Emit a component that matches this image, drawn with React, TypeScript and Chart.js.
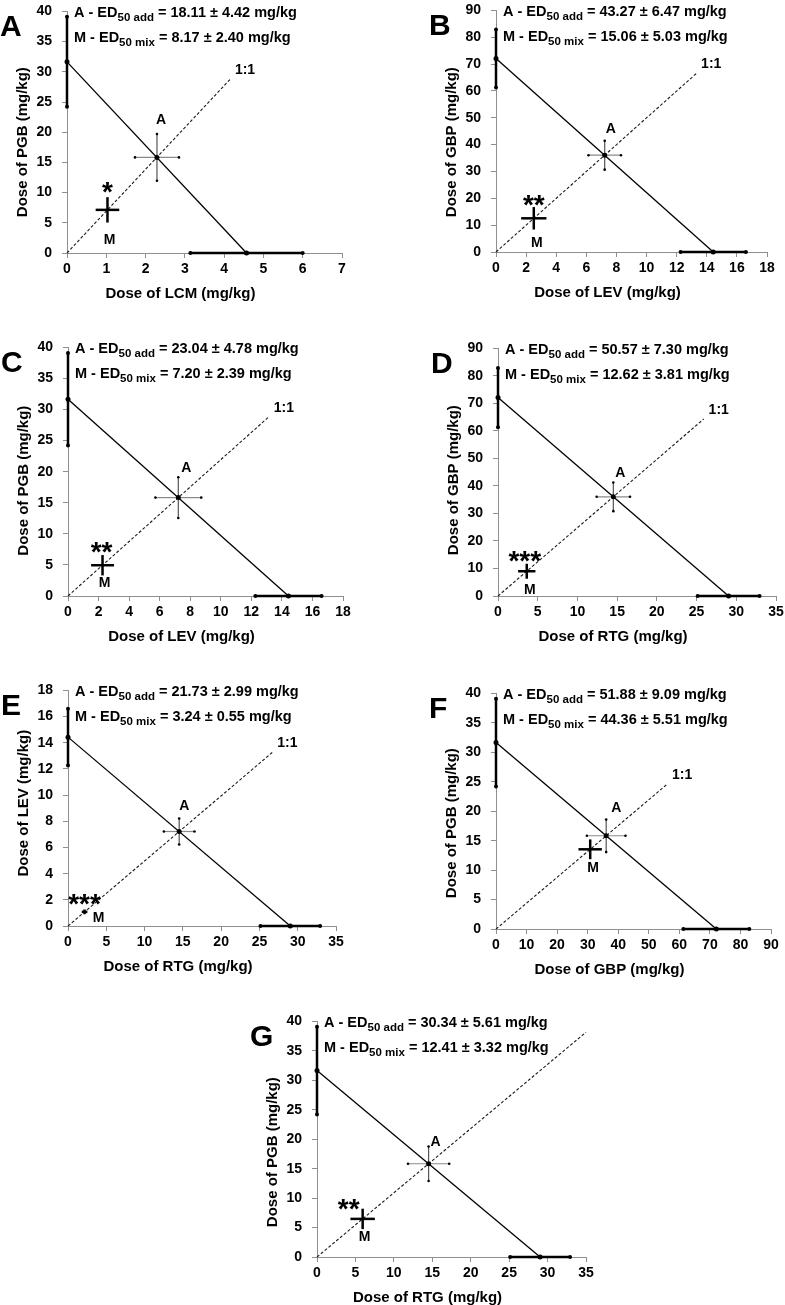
import React, { useEffect, useRef } from 'react';
import { Chart, registerables } from 'chart.js';
Chart.register(...registerables);

const FONT = '"Liberation Sans", Arial, Helvetica, sans-serif';

// ---------------- data ----------------
const panelLetters = ['A', 'B', 'C', 'D', 'E', 'F', 'G'];
const xDrugNames = ['LCM', 'LEV', 'LEV', 'RTG', 'RTG', 'GBP', 'RTG'];
const yDrugNames = ['PGB', 'GBP', 'PGB', 'GBP', 'LEV', 'PGB', 'PGB'];
const xAxisMax = [7, 18, 18, 35, 35, 90, 35];
const xAxisStep = [1, 2, 2, 5, 5, 10, 5];
const yAxisMax = [40, 90, 40, 90, 18, 40, 40];
const yAxisStep = [5, 10, 5, 10, 2, 5, 5];

// single-drug ED50 (on each axis) and its error
const xED50 = [4.57, 14.43, 14.43, 29.03, 29.03, 72.11, 29.03];
const xED50Err = [1.43, 2.17, 2.17, 3.9, 3.9, 10.8, 3.9];
const yED50 = [31.65, 72.11, 31.65, 72.11, 14.43, 31.65, 31.65];
const yED50Err = [7.45, 10.8, 7.45, 10.8, 2.17, 7.45, 7.45];

// theoretical additive point (A)
const addPointX = [2.29, 7.22, 7.22, 14.52, 14.52, 36.06, 14.52];
const addPointY = [15.83, 36.06, 15.83, 36.06, 7.22, 15.83, 15.83];
const addErrX = [0.56, 1.08, 1.5, 2.1, 2.0, 6.32, 2.68];
const addErrY = [3.86, 5.39, 3.28, 5.21, 0.99, 2.77, 2.93];

// experimental mixture point (M)
const mixPointX = [1.03, 2.51, 2.26, 3.62, 2.16, 30.83, 5.94];
const mixPointY = [7.14, 12.55, 4.95, 9.0, 1.08, 13.53, 6.47];
const mixErrX = [0.3, 0.84, 0.75, 1.09, 0.37, 3.83, 1.59];
const mixErrY = [2.1, 4.19, 1.64, 2.72, 0.18, 1.68, 1.73];

// end of the 1:1 ray
const rayEndX = [4.15, 13.3, 13.15, 25.9, 26.7, 56, 35];
const rayEndY = [28.74, 66.46, 28.84, 64.33, 13.27, 24.58, 38.16];

const edAddText = ['18.11 ± 4.42', '43.27 ± 6.47', '23.04 ± 4.78', '50.57 ± 7.30', '21.73 ± 2.99', '51.88 ± 9.09', '30.34 ± 5.61'];
const edMixText = ['8.17 ± 2.40', '15.06 ± 5.03', '7.20 ± 2.39', '12.62 ± 3.81', '3.24 ± 0.55', '44.36 ± 5.51', '12.41 ± 3.32'];
const significance = ['*', '**', '**', '***', '***', '', '**'];
const rayLabel = ['1:1', '1:1', '1:1', '1:1', '1:1', '1:1', ''];

// ---------------- layout (page pixels) ----------------
const plotX0 = [67, 496, 68, 498, 68, 496, 317];
const plotX1 = [342, 767, 343, 776, 336, 771, 586];
const plotYTop = [7, 6, 343, 344, 686, 689, 1017];
const plotYBottom = [253, 252, 596, 596, 926, 929, 1257];
const addLabelOffset = [[4, -37], [6, -26], [8, -29], [7, -24], [5, -25], [10, -28], [7, -22]];
const mixLabelOffset = [[2, 30], [3, 25], [2, 18], [3, 19], [14, 6], [3, 19], [2, 18]];
const starOffset = [[0, -24], [0, -19.5], [-1, -20], [-2, -17], [0, -14], [0, 0], [-14, -16]];
const yTitleShift = [10, 11, 9, 8, -5, 12, 13];

const PAD_L = 72, PAD_T = 14, PAD_R = 22, PAD_B = 58;

function drawRich(ctx: CanvasRenderingContext2D, x: number, y: number, parts: [string, number, number][]) {
  let cx = x;
  for (const [text, size, dy] of parts) {
    ctx.font = `bold ${size}px ${FONT}`;
    ctx.fillText(text, cx, y + dy);
    cx += ctx.measureText(text).width;
  }
}

function seg(pts: { x: number; y: number }[], color: string, w: number, dash: number[] = [], r = 0, showLine = true) {
  return {
    data: pts,
    showLine,
    borderColor: color,
    backgroundColor: '#000',
    borderWidth: w,
    borderDash: dash,
    pointRadius: r,
    pointHoverRadius: r,
    pointBackgroundColor: '#000',
    pointBorderColor: '#000',
    pointBorderWidth: 0,
    clip: false as any,
    tension: 0,
  };
}

function Panel({ i }: { i: number }) {
  const ref = useRef<HTMLCanvasElement>(null);
  const left = plotX0[i] - PAD_L;
  const top = plotYTop[i] - PAD_T;
  const width = plotX1[i] - plotX0[i] + PAD_L + PAD_R;
  const height = plotYBottom[i] - plotYTop[i] + PAD_T + PAD_B;

  useEffect(() => {
    const canvas = ref.current;
    if (!canvas) return;
    const tickFont = { family: FONT, size: 14, weight: 'bold' as const };
    const axisColor = '#8f8f8f';

    const datasets = [
      seg([{ x: mixPointX[i], y: mixPointY[i] - mixErrY[i] }, { x: mixPointX[i], y: mixPointY[i] + mixErrY[i] }], '#000', 2.5),
      seg([{ x: mixPointX[i] - mixErrX[i], y: mixPointY[i] }, { x: mixPointX[i] + mixErrX[i], y: mixPointY[i] }], '#000', 2.5),
      seg([{ x: addPointX[i], y: addPointY[i] }], '#000', 0, [], 2.5, false),
      seg([{ x: addPointX[i], y: addPointY[i] - addErrY[i] }, { x: addPointX[i], y: addPointY[i] + addErrY[i] }], '#555', 1.2, [], 1.3),
      seg([{ x: addPointX[i] - addErrX[i], y: addPointY[i] }, { x: addPointX[i] + addErrX[i], y: addPointY[i] }], '#8a8a8a', 1.2, [], 1.3),
      seg([{ x: 0, y: yED50[i] - yED50Err[i] }, { x: 0, y: yED50[i] + yED50Err[i] }], '#000', 2.5, [], 2),
      seg([{ x: 0, y: yED50[i] }], '#000', 0, [], 2.5, false),
      seg([{ x: xED50[i] - xED50Err[i], y: 0 }, { x: xED50[i] + xED50Err[i], y: 0 }], '#000', 2.5, [], 2),
      seg([{ x: xED50[i], y: 0 }], '#000', 0, [], 2.5, false),
      seg([{ x: 0, y: yED50[i] }, { x: xED50[i], y: 0 }], '#000', 1.3),
      seg([{ x: 0, y: 0 }, { x: rayEndX[i], y: rayEndY[i] }], '#1a1a1a', 1.1, [3, 2]),
    ];

    const textPlugin = {
      id: 'panelTexts' + i,
      afterDraw(chart: any) {
        const ctx: CanvasRenderingContext2D = chart.ctx;
        const xs = chart.scales.x;
        const ys = chart.scales.y;
        const x0 = xs.getPixelForValue(0);
        const x1 = xs.getPixelForValue(xAxisMax[i]);
        const yT = ys.getPixelForValue(yAxisMax[i]);
        const y0 = ys.getPixelForValue(0);
        ctx.save();
        ctx.fillStyle = '#000';

        // panel letter
        ctx.font = `bold 30px ${FONT}`;
        ctx.textAlign = 'left';
        ctx.textBaseline = 'alphabetic';
        ctx.fillText(panelLetters[i], x0 - 67, yT + 24.5);

        // annotations
        drawRich(ctx, x0 + 7, yT + 5.7, [
          ['A - ED', 14.5, 0],
          ['50 add', 11.5, 3.5],
          [' = ' + edAddText[i] + ' mg/kg', 14.5, 0],
        ]);
        drawRich(ctx, x0 + 7, yT + 31, [
          ['M - ED', 14.5, 0],
          ['50 mix', 11.5, 3.5],
          [' = ' + edMixText[i] + ' mg/kg', 14.5, 0],
        ]);

        // axis titles
        ctx.font = `bold 15px ${FONT}`;
        ctx.textAlign = 'center';
        ctx.textBaseline = 'middle';
        ctx.fillText(`Dose of ${xDrugNames[i]} (mg/kg)`, (x0 + x1) / 2 - 24, y0 + 40.5);
        ctx.save();
        ctx.translate(x0 - 44, (yT + y0) / 2 + yTitleShift[i]);
        ctx.rotate(-Math.PI / 2);
        ctx.fillText(`Dose of ${yDrugNames[i]} (mg/kg)`, 0, 0);
        ctx.restore();

        // point labels
        ctx.font = `bold 14px ${FONT}`;
        const ax = xs.getPixelForValue(addPointX[i]);
        const ay = ys.getPixelForValue(addPointY[i]);
        ctx.fillText('A', ax + addLabelOffset[i][0], ay + addLabelOffset[i][1]);
        const mx = xs.getPixelForValue(mixPointX[i]);
        const my = ys.getPixelForValue(mixPointY[i]);
        ctx.fillText('M', mx + mixLabelOffset[i][0], my + mixLabelOffset[i][1]);
        if (rayLabel[i]) {
          const rx = xs.getPixelForValue(rayEndX[i]);
          const ry = ys.getPixelForValue(rayEndY[i]);
          ctx.fillText(rayLabel[i], rx + 15, ry - 9);
        }
        if (significance[i]) {
          ctx.font = `bold 28px ${FONT}`;
          ctx.textBaseline = 'alphabetic';
          ctx.fillText(significance[i], mx + starOffset[i][0], my + starOffset[i][1] + 0.55 * 28);
        }
        ctx.restore();
      },
    };

    const chart = new Chart(canvas, {
      type: 'scatter',
      data: { datasets: datasets as any },
      options: {
        responsive: false,
        animation: false,
        devicePixelRatio: 1,
        events: [],
        layout: { padding: { left: 0, top: PAD_T, right: PAD_R, bottom: 0 } },
        plugins: { legend: { display: false }, tooltip: { enabled: false }, title: { display: false } },
        scales: {
          x: {
            type: 'linear',
            position: 'bottom',
            min: 0,
            max: xAxisMax[i],
            ticks: { stepSize: xAxisStep[i], font: tickFont, color: '#000', padding: 3, autoSkip: false, maxRotation: 0 },
            grid: { drawOnChartArea: false, drawTicks: true, tickLength: 5, color: axisColor },
            border: { display: true, color: axisColor, width: 1 },
            afterFit: (s: any) => { s.height = PAD_B; },
          },
          y: {
            type: 'linear',
            position: 'left',
            min: 0,
            max: yAxisMax[i],
            ticks: { stepSize: yAxisStep[i], font: tickFont, color: '#000', padding: 10, autoSkip: false },
            grid: { drawOnChartArea: false, drawTicks: true, tickLength: 5, color: axisColor },
            border: { display: true, color: axisColor, width: 1 },
            afterFit: (s: any) => { s.width = PAD_L; },
          },
        },
      } as any,
      plugins: [textPlugin],
    });
    return () => chart.destroy();
  }, [i]);

  return (
    <canvas
      ref={ref}
      width={width}
      height={height}
      style={{ position: 'absolute', left, top, width, height, display: 'block' }}
    />
  );
}

export default function App() {
  return (
    <div style={{ position: 'absolute', left: 0, top: 0, width: 785, height: 1305, overflow: 'hidden', background: '#fff' }}>
      {panelLetters.map((_, i) => (
        <Panel key={i} i={i} />
      ))}
    </div>
  );
}
